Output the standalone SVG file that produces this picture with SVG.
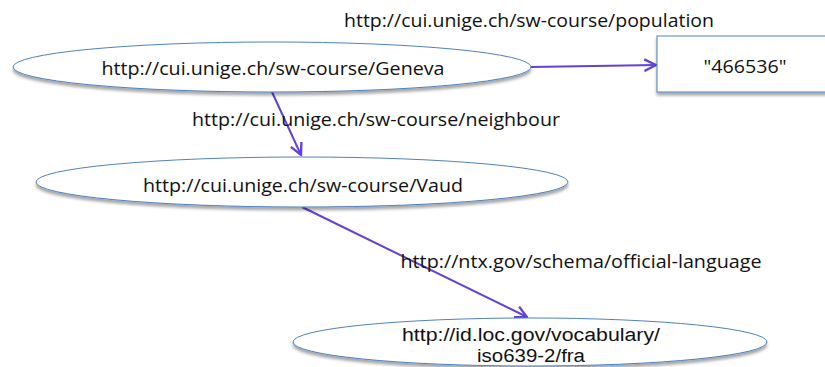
<svg xmlns="http://www.w3.org/2000/svg" width="825" height="367" viewBox="0 0 825 367">
<style>
.node{fill:#ffffff;stroke:#4f81bd;stroke-width:1;filter:url(#sh)}
.t{font-family:"Open Sans","Liberation Sans",sans-serif;font-size:18px;fill:#111;text-anchor:middle}
.t2{font-family:"Liberation Sans","Open Sans",sans-serif;font-size:18px;fill:#111;text-anchor:middle}
.e{stroke:#6340d8;stroke-width:2;fill:none;marker-end:url(#ah)}
</style>
<defs>
<filter id="sh" x="-10%" y="-30%" width="120%" height="170%">
<feGaussianBlur in="SourceAlpha" stdDeviation="1.5"/>
<feOffset dx="0" dy="2.5" result="b"/>
<feComponentTransfer><feFuncA type="linear" slope="0.35"/></feComponentTransfer>
<feMerge><feMergeNode/><feMergeNode in="SourceGraphic"/></feMerge>
</filter>
<marker id="ah" viewBox="0 0 12 12" refX="11" refY="6" markerWidth="7" markerHeight="7" markerUnits="strokeWidth" orient="auto">
<path d="M1,1 L11,6 L1,11" fill="none" stroke="#6340d8" stroke-width="2"/>
</marker>
</defs>
<g id="edges">
<line class="e" x1="531" y1="67" x2="656" y2="65"/>
<line class="e" x1="272" y1="92" x2="301" y2="155"/>
<line class="e" x1="302" y1="207" x2="527" y2="317"/>
<text class="t" x="529" y="27" textLength="370" lengthAdjust="spacingAndGlyphs">http://cui.unige.ch/sw-course/population</text>
<text class="t" x="376" y="126" textLength="368" lengthAdjust="spacingAndGlyphs">http://cui.unige.ch/sw-course/neighbour</text>
<text class="t" x="581" y="268" textLength="361" lengthAdjust="spacingAndGlyphs">http://ntx.gov/schema/official-language</text>
</g>
<g id="geneva">
<ellipse class="node" cx="272" cy="67" rx="259" ry="25"/>
<text class="t" x="273" y="75" textLength="343" lengthAdjust="spacingAndGlyphs">http://cui.unige.ch/sw-course/Geneva</text>
</g>
<g id="population">
<rect class="node" x="657" y="36" width="180" height="56"/>
<text class="t" x="745" y="73" textLength="83" lengthAdjust="spacingAndGlyphs">"466536"</text>
</g>
<g id="vaud">
<ellipse class="node" cx="302" cy="182" rx="266" ry="25"/>
<text class="t" x="303" y="192" textLength="320" lengthAdjust="spacingAndGlyphs">http://cui.unige.ch/sw-course/Vaud</text>
</g>
<g id="fra">
<ellipse class="node" cx="530" cy="342" rx="237" ry="24"/>
<text class="t2" x="531" y="341" textLength="258" lengthAdjust="spacingAndGlyphs">http://id.loc.gov/vocabulary/</text>
<text class="t2" x="531" y="362" textLength="108" lengthAdjust="spacingAndGlyphs">iso639-2/fra</text>
</g>
</svg>
